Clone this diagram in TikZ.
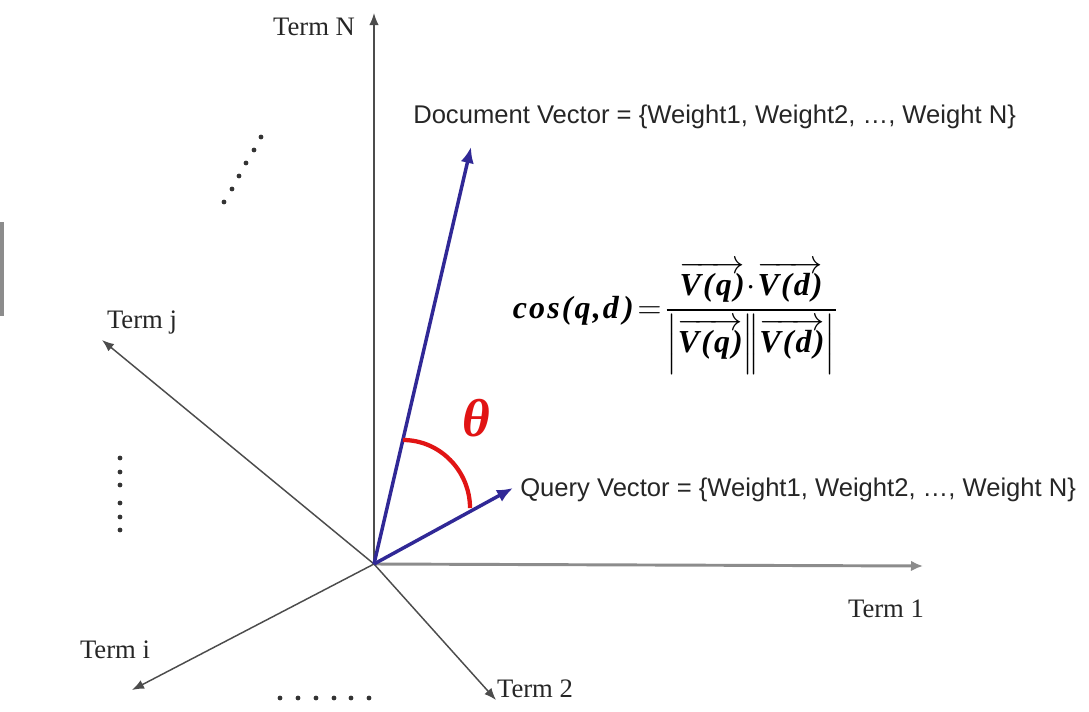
\documentclass[tikz,border=0pt]{standalone}
\usepackage{amsmath}
\usepackage{fontspec}
\setmainfont{Liberation Serif}
\newfontfamily\arialf{Liberation Sans}
\usetikzlibrary{arrows.meta}
\definecolor{vecblue}{RGB}{48,40,150}
\definecolor{angred}{RGB}{225,20,20}
\newcommand{\kk}{\kern1.6pt}
\newcommand{\Vq}{\text{V\kk(\kk q\kk)}}
\newcommand{\Vd}{\text{V\kk(\kk d\kk)}}
\tikzset{
  axis/.style={draw=black!70, line width=1.1pt, -{Latex[length=9pt,width=7pt]}},
  axisg/.style={draw=black!45, line width=2.2pt, -{Latex[length=9pt,width=8pt]}},
  vec/.style={draw=vecblue, line width=2.6pt, -{Latex[length=12pt,width=10pt]}},
  termlbl/.style={font=\fontsize{20}{22}\selectfont, text=black!85, inner sep=0pt},
  veclbl/.style={font=\arialf\fontsize{19.2}{22}\selectfont, text=black!85, inner sep=0pt, anchor=west},
  dotstyle/.style={fill=black!80, draw=none},
}
\begin{document}
\begin{tikzpicture}[x=0.75pt,y=-0.75pt]
\useasboundingbox (0,0) rectangle (1089,711);
\fill[white] (0,0) rectangle (1089,711);
% left edge artefact bar
\fill[black!45] (0,222) rectangle (4,316);

\coordinate (O) at (374,564);
\coordinate (eN) at (374,13);
\coordinate (e1) at (923,566);
\coordinate (ej) at (102,340);
\coordinate (ei) at (132,690);
\coordinate (e2) at (496,700);
\coordinate (ed) at (471,147);
\coordinate (eq) at (513,488);

% axes
\draw[axisg] (O) -- (e1);
\draw[axis] (O) -- (eN);
\draw[axis] (O) -- (ej);
\draw[axis] (O) -- (ei);
\draw[axis] (O) -- (e2);

% labels
\node[termlbl] (tN) at (314,27) {Term N};
\node[termlbl] (t1) at (886,609) {Term 1};
\node[termlbl] (tj) at (142,323) {Term j};
\node[termlbl] (ti) at (115,650) {Term i};
\node[termlbl] (t2) at (535,689) {Term 2};

% vectors
\draw[vec] (O) -- (ed);
\draw[vec] (O) -- (eq);
\node[veclbl] (dl) at (413,117) {Document Vector = \{Weight1, Weight2, \dots, Weight N\}};
\node[veclbl] (ql) at (520,490) {Query Vector = \{Weight1, Weight2, \dots, Weight N\}};

% angle
\coordinate (a1) at (403,440);
\coordinate (a2) at (470,508);
\draw[angred, line width=3.2pt] (a1) .. controls (440,440) and (470,471) .. (a2);
\node[text=angred, inner sep=0pt, font=\fontsize{40}{44}\selectfont\bfseries\itshape] (th) at (476,418) {θ};

% formula
\node[inner sep=0pt, font=\fontsize{24}{28}\selectfont\bfseries\itshape] (f) at (675,318)
 {$\displaystyle \text{c\kk o\kk s\kk(\kk q\kk,\kk d\kk\kk)}\!=\!\frac{\overrightarrow{\Vq}\!\cdot\!\overrightarrow{\Vd}}{\Bigl|\overrightarrow{\Vq}\Bigr|\!\Bigl|\overrightarrow{\Vd}\Bigr|}$};

% dots
\foreach \x/\y in {261/137,254/150,246/163,239/176,232/189,224/202}
  \fill[dotstyle] (\x,\y) circle (2.4);
\foreach \y in {458,472,485,503,517,530}
  \fill[dotstyle] (120,\y) circle (2.4);
\foreach \x in {280,298,316,334,351,369}
  \fill[dotstyle] (\x,698) circle (2.4);
\end{tikzpicture}
\end{document}
